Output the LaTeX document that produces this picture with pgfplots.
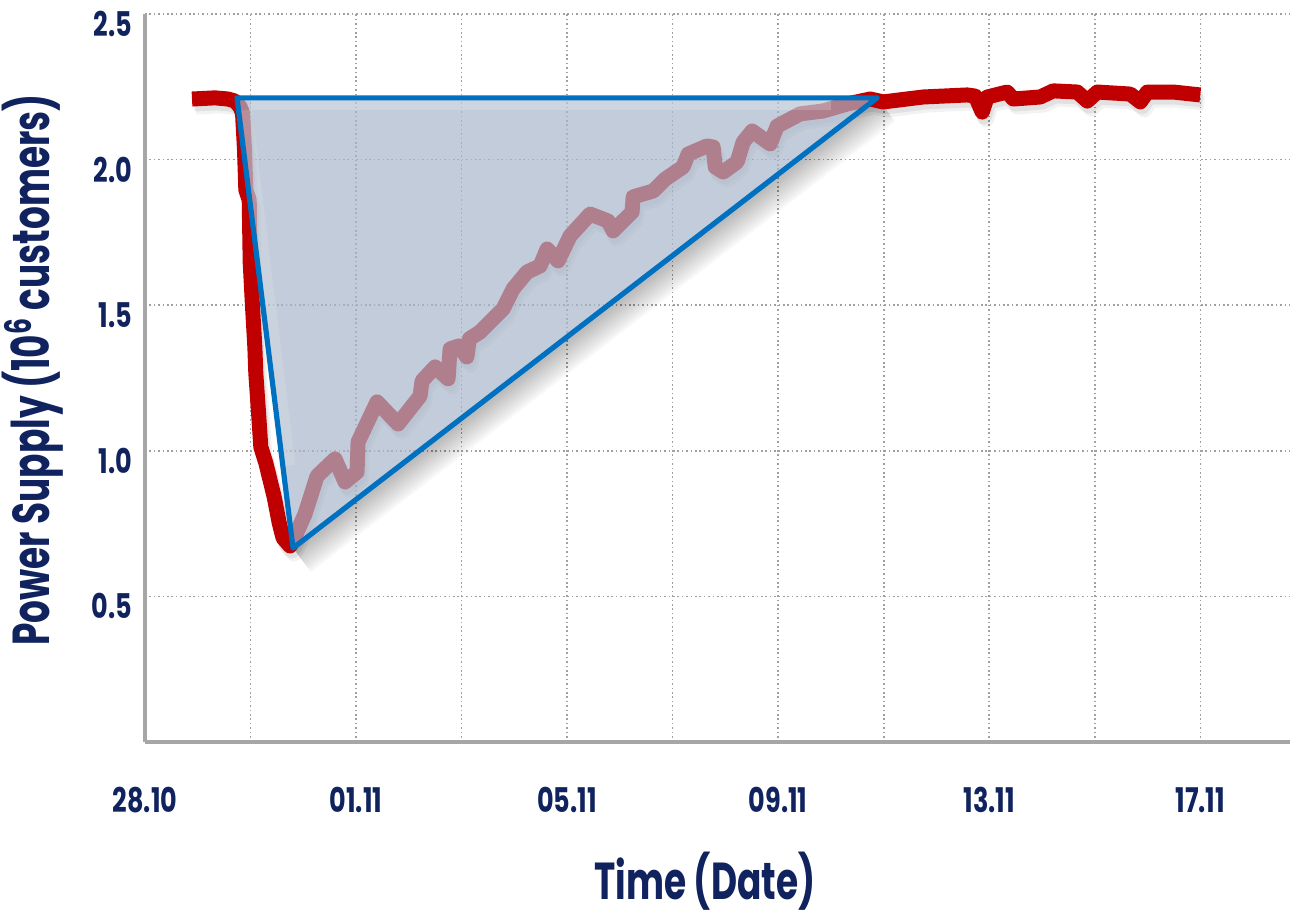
\documentclass[border=0pt]{standalone}
\usepackage{fontspec}
\setmainfont{Poppins}[FakeStretch=0.69]
\newfontfamily\tickfont{Poppins}[FakeStretch=0.75]
\usepackage{pgfplots}
\usepackage{pgfplotstable}
\pgfplotsset{compat=1.18}
\definecolor{navy}{RGB}{16,35,94}
\definecolor{redline}{RGB}{192,0,0}
\definecolor{triblue}{RGB}{0,112,192}
\definecolor{trifill}{RGB}{169,182,202}
\definecolor{gridgray}{RGB}{160,160,160}
\definecolor{axgray}{RGB}{166,166,166}

\pgfplotstableread{
x y
0.891 2.208
1.327 2.212
1.573 2.208
1.706 2.201
1.801 2.181
1.848 2.160
1.886 2.033
1.911 1.896
1.975 1.861
1.994 1.645
2.038 1.494
2.082 1.356
2.100 1.267
2.152 1.130
2.195 1.013
2.290 0.958
2.449 0.841
2.544 0.752
2.616 0.701
2.749 0.673
2.806 0.690
3.033 0.783
3.261 0.913
3.602 0.972
3.791 0.893
4.019 0.927
4.038 1.030
4.398 1.168
4.796 1.092
5.213 1.188
5.251 1.240
5.498 1.288
5.744 1.247
5.782 1.350
5.950 1.360
6.100 1.322
6.150 1.385
6.351 1.408
6.787 1.487
6.976 1.556
7.242 1.614
7.488 1.635
7.621 1.693
7.829 1.652
8.057 1.738
8.436 1.813
8.777 1.789
8.872 1.755
9.232 1.820
9.251 1.872
9.630 1.892
9.858 1.933
10.199 1.975
10.294 2.019
10.654 2.047
10.768 2.043
10.806 1.975
10.957 1.957
11.223 1.992
11.336 2.060
11.507 2.098
11.848 2.054
11.981 2.115
12.417 2.157
12.853 2.167
13.308 2.191
13.744 2.208
13.991 2.198
14.749 2.215
15.583 2.222
15.735 2.218
15.867 2.163
15.962 2.215
16.341 2.232
16.455 2.208
16.967 2.215
17.213 2.236
17.668 2.232
17.858 2.201
18.047 2.232
18.673 2.225
18.863 2.198
18.995 2.232
19.488 2.232
20.000 2.222
}\supply

\pgfplotstableread{
x y
1.744 2.212
2.806 0.666
13.877 2.212
1.744 2.212
}\tri

\begin{document}
\begin{tikzpicture}
\useasboundingbox (-72.5pt,-88.5pt) rectangle (573pt,371pt);
\begin{axis}[
  scale only axis, width=572.5pt, height=364pt,
  xmin=0, xmax=21.7, ymin=0, ymax=2.5,
  axis x line=bottom, axis y line=left,
  axis line style={draw=axgray, line width=2pt, -},
  xtick={0,2,...,20},
  xticklabels={28.10,,01.11,,05.11,,09.11,,13.11,,17.11},
  ytick={0.5,1,1.5,2,2.5},
  yticklabels={0.5,1.0,1.5,2.0,2.5},
  major tick length=0pt,
  grid=major,
  grid style={draw=gridgray, dash pattern=on 0.8pt off 1.4pt, line width=0.8pt},
  ticklabel style={font=\tickfont\bfseries\fontsize{17}{20}\selectfont, text=navy},
  xticklabel style={anchor=center, yshift=-29pt},
  yticklabel style={anchor=east, xshift=-3pt, yshift=-5pt},
  xlabel={Time (Date)},
  ylabel={Power Supply (10\textsuperscript{6} customers)},
  label style={font=\bfseries\fontsize{26}{30}\selectfont, text=navy},
  xlabel style={at={(axis description cs:0.489,-0.191)}, anchor=center},
  ylabel style={at={(axis description cs:-0.098,0.511)}, anchor=center},
  clip=false, no markers,
  shadow/.style={draw=none, fill=black, fill opacity=0.028},
]
% soft shadow below the long edge of the triangle
\addplot[shadow] coordinates {(2.806,0.666) (13.877,2.212) (13.905,2.205) (2.834,0.659)};
\addplot[shadow] coordinates {(2.806,0.666) (13.877,2.212) (13.934,2.198) (2.863,0.652)};
\addplot[shadow] coordinates {(2.806,0.666) (13.877,2.212) (13.962,2.191) (2.891,0.645)};
\addplot[shadow] coordinates {(2.806,0.666) (13.877,2.212) (13.991,2.185) (2.920,0.639)};
\addplot[shadow] coordinates {(2.806,0.666) (13.877,2.212) (14.019,2.178) (2.948,0.632)};
\addplot[shadow] coordinates {(2.806,0.666) (13.877,2.212) (14.048,2.171) (2.977,0.625)};
\addplot[shadow] coordinates {(2.806,0.666) (13.877,2.212) (14.076,2.164) (3.005,0.618)};
\addplot[shadow] coordinates {(2.806,0.666) (13.877,2.212) (14.104,2.157) (3.033,0.611)};
\addplot[shadow] coordinates {(2.806,0.666) (13.877,2.212) (14.133,2.150) (3.062,0.604)};
\addplot[shadow] coordinates {(2.806,0.666) (13.877,2.212) (14.161,2.143) (3.090,0.597)};
\addplot[shadow] coordinates {(2.806,0.666) (13.877,2.212) (14.190,2.136) (3.119,0.590)};
\addplot[shadow] coordinates {(2.806,0.666) (13.877,2.212) (14.218,2.130) (3.147,0.584)};
% red line shadow
\addplot[draw=black, draw opacity=0.07, line width=7.5pt, line join=round, xshift=1pt, yshift=-2.5pt] table {\supply};
\addplot[draw=black, draw opacity=0.05, line width=7.5pt, line join=round, xshift=2pt, yshift=-4pt] table {\supply};
% red line
\addplot[draw=redline, line width=7.5pt, line join=round, line cap=butt] table {\supply};
% triangle
\addplot[draw=none, fill=trifill, fill opacity=0.7] table {\tri};
\addplot[draw=white, draw opacity=0.18, line width=6pt, yshift=-3pt] coordinates {(2.0,2.212) (13.0,2.212)};
\addplot[draw=white, draw opacity=0.12, line width=6pt, xshift=3pt] coordinates {(1.80,2.17) (2.62,0.95)};
\addplot[draw=triblue, line width=2.6pt, line join=round, line cap=round] table {\tri};
\end{axis}
\end{tikzpicture}
\end{document}
